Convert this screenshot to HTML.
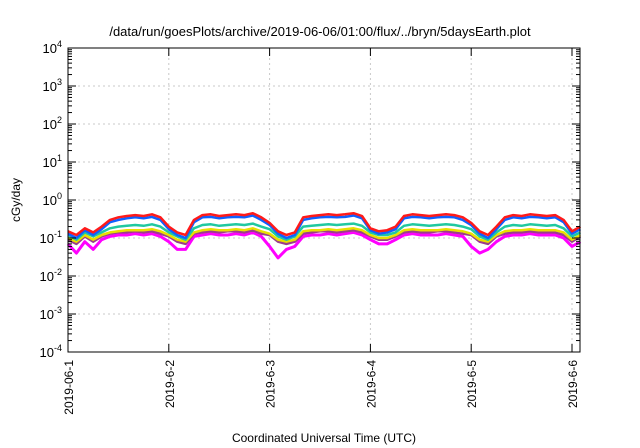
<!DOCTYPE html>
<html><head><meta charset="utf-8"><style>
body{margin:0;background:#fff}
svg{display:block;font-family:"Liberation Sans",sans-serif}
</style></head><body>
<svg id="c" width="640" height="448">
<text x="320" y="36" text-anchor="middle" font-size="13">/data/run/goesPlots/archive/2019-06-06/01:00/flux/../bryn/5daysEarth.plot</text>
<text transform="translate(20,200) rotate(-90)" text-anchor="middle" font-size="12">cGy/day</text>
<text x="324" y="442" text-anchor="middle" font-size="12">Coordinated Universal Time (UTC)</text>
<g id="grid"></g><g id="series"></g><g id="axes"></g>
</svg>
<script>
const xTickLabels=["2019-06-1","2019-6-2","2019-6-3","2019-6-4","2019-6-5","2019-6-6"];
const yExponents=[-4,-3,-2,-1,0,1,2,3,4];
const seriesColors=["#ff00ff","#9a3d8c","#e8e000","#20c8a0","#1060ff","#ff1a1a"];
const red=[0.15,0.12,0.18,0.14,0.2,0.3,0.35,0.38,0.4,0.38,0.42,0.35,
0.2,0.14,0.12,0.3,0.4,0.42,0.38,0.4,0.42,0.4,0.45,0.35,
0.25,0.15,0.12,0.14,0.35,0.38,0.4,0.42,0.4,0.42,0.45,0.38,
0.18,0.15,0.16,0.2,0.38,0.42,0.4,0.38,0.4,0.42,0.4,0.35,
0.25,0.15,0.12,0.2,0.35,0.4,0.38,0.42,0.4,0.38,0.4,0.3,0.15,0.2];
const blue=[0.13,0.1,0.16,0.12,0.17,0.26,0.3,0.33,0.35,0.33,0.36,0.3,
0.17,0.12,0.1,0.26,0.35,0.36,0.33,0.35,0.36,0.35,0.39,0.3,
0.22,0.13,0.1,0.12,0.3,0.33,0.35,0.36,0.35,0.36,0.39,0.33,
0.16,0.13,0.14,0.17,0.33,0.36,0.35,0.33,0.35,0.36,0.35,0.3,
0.22,0.13,0.1,0.17,0.3,0.35,0.33,0.36,0.35,0.33,0.35,0.26,0.13,0.17];
const teal=[0.12,0.09,0.14,0.11,0.14,0.18,0.2,0.21,0.22,0.21,0.23,0.2,
0.14,0.11,0.09,0.18,0.22,0.23,0.21,0.22,0.23,0.22,0.24,0.2,
0.17,0.11,0.09,0.11,0.2,0.21,0.22,0.23,0.22,0.23,0.24,0.21,
0.14,0.12,0.12,0.14,0.21,0.23,0.22,0.21,0.22,0.23,0.22,0.2,
0.17,0.11,0.09,0.14,0.2,0.22,0.21,0.23,0.22,0.21,0.22,0.18,0.11,0.14];
const yellow=[0.1,0.08,0.12,0.09,0.12,0.14,0.15,0.16,0.16,0.16,0.17,0.15,
0.12,0.09,0.08,0.14,0.16,0.17,0.16,0.16,0.17,0.16,0.18,0.15,
0.13,0.09,0.08,0.09,0.15,0.16,0.16,0.17,0.16,0.17,0.18,0.16,
0.12,0.1,0.1,0.12,0.16,0.17,0.16,0.16,0.16,0.17,0.16,0.15,
0.13,0.09,0.08,0.12,0.15,0.16,0.16,0.17,0.16,0.16,0.16,0.14,0.09,0.12];
const purple=[0.09,0.07,0.11,0.08,0.11,0.13,0.14,0.14,0.15,0.14,0.15,0.13,
0.11,0.08,0.07,0.13,0.14,0.15,0.14,0.15,0.15,0.14,0.16,0.13,
0.12,0.08,0.07,0.08,0.13,0.14,0.15,0.15,0.14,0.15,0.16,0.14,
0.11,0.09,0.09,0.11,0.14,0.15,0.14,0.14,0.15,0.15,0.14,0.13,
0.12,0.08,0.07,0.11,0.13,0.14,0.14,0.15,0.14,0.14,0.14,0.12,0.08,0.11];
const magenta=[0.07,0.04,0.08,0.05,0.09,0.11,0.12,0.12,0.13,0.12,0.13,0.11,
0.08,0.05,0.05,0.11,0.12,0.13,0.12,0.12,0.13,0.12,0.14,0.11,
0.06,0.03,0.05,0.06,0.11,0.12,0.12,0.13,0.12,0.13,0.14,0.12,
0.09,0.07,0.07,0.09,0.12,0.13,0.12,0.12,0.12,0.13,0.12,0.11,
0.06,0.04,0.05,0.08,0.11,0.12,0.12,0.13,0.12,0.12,0.12,0.1,0.06,0.08];
const allSeries=[magenta,purple,yellow,teal,blue,red];
const seriesNames=["series-magenta","series-purple","series-yellow","series-teal","series-blue","series-red"];
const L=68,R=580,T=48,B=352,DAYS=5.08;
const xs=d=>L+(d/DAYS)*(R-L)*(572-68)/(5*(R-L)/DAYS)*1;
function xPos(d){return L+d*(572-L)/5;}
function yPos(v){return B-(Math.log10(v)+4)/8*(B-T);}
const NS="http://www.w3.org/2000/svg";
function mk(tag,attrs,parent){const e=document.createElementNS(NS,tag);for(const k in attrs)e.setAttribute(k,attrs[k]);parent.appendChild(e);return e;}
const grid=document.getElementById('grid'),axes=document.getElementById('axes'),ser=document.getElementById('series');
yExponents.forEach((p,i)=>{
 const y=yPos(Math.pow(10,p));
 if(p>-4&&p<4){const g=mk('line',{x1:L,x2:R,y1:y,y2:y,stroke:'#c8c8c8','stroke-dasharray':'2,3'},grid);
 
 }
 const t=mk('line',{x1:L,x2:L+8,y1:y,y2:y,stroke:'#000'},axes);
 
 
 mk('line',{x1:R,x2:R-8,y1:y,y2:y,stroke:'#000'},axes);
 if(p<4)for(let m=2;m<10;m++){const ym=yPos(m*Math.pow(10,p));mk('line',{x1:L,x2:L+4,y1:ym,y2:ym,stroke:'#000'},axes);mk('line',{x1:R,x2:R-4,y1:ym,y2:ym,stroke:'#000'},axes);}
 const tx=mk('text',{x:L-6,y:y+5,'text-anchor':'end','font-size':'13'},axes);
 
 
 tx.innerHTML='10<tspan dy="-6" font-size="9">'+p+'</tspan>';
});
xTickLabels.forEach((lab,i)=>{
 const x=xPos(i);
 if(i>0){const g=mk('line',{x1:x,x2:x,y1:T,y2:B,stroke:'#c8c8c8','stroke-dasharray':'2,3'},grid);
 
 }
 mk('line',{x1:x,x2:x,y1:B,y2:B-8,stroke:'#000'},axes);
 mk('line',{x1:x,x2:x,y1:T,y2:T+8,stroke:'#000'},axes);
 const tx=mk('text',{transform:'translate('+(x+5)+','+(B+8)+') rotate(-90)','text-anchor':'end','font-size':'12'},axes);
 
 
 tx.textContent=lab;
});
const fr=mk('rect',{x:L,y:T,width:R-L,height:B-T,fill:'none',stroke:'#000'},axes);


allSeries.forEach((arr,s)=>{
 const pts=arr.map((v,i)=>xPos(i/12).toFixed(1)+','+yPos(v).toFixed(1)).join(' ');
 const pl=mk('polyline',{points:pts,fill:'none',stroke:seriesColors[s],'stroke-width':s==0?3:2.5,'stroke-linejoin':'round'},ser);
 
 
});
</script>
</body></html>
